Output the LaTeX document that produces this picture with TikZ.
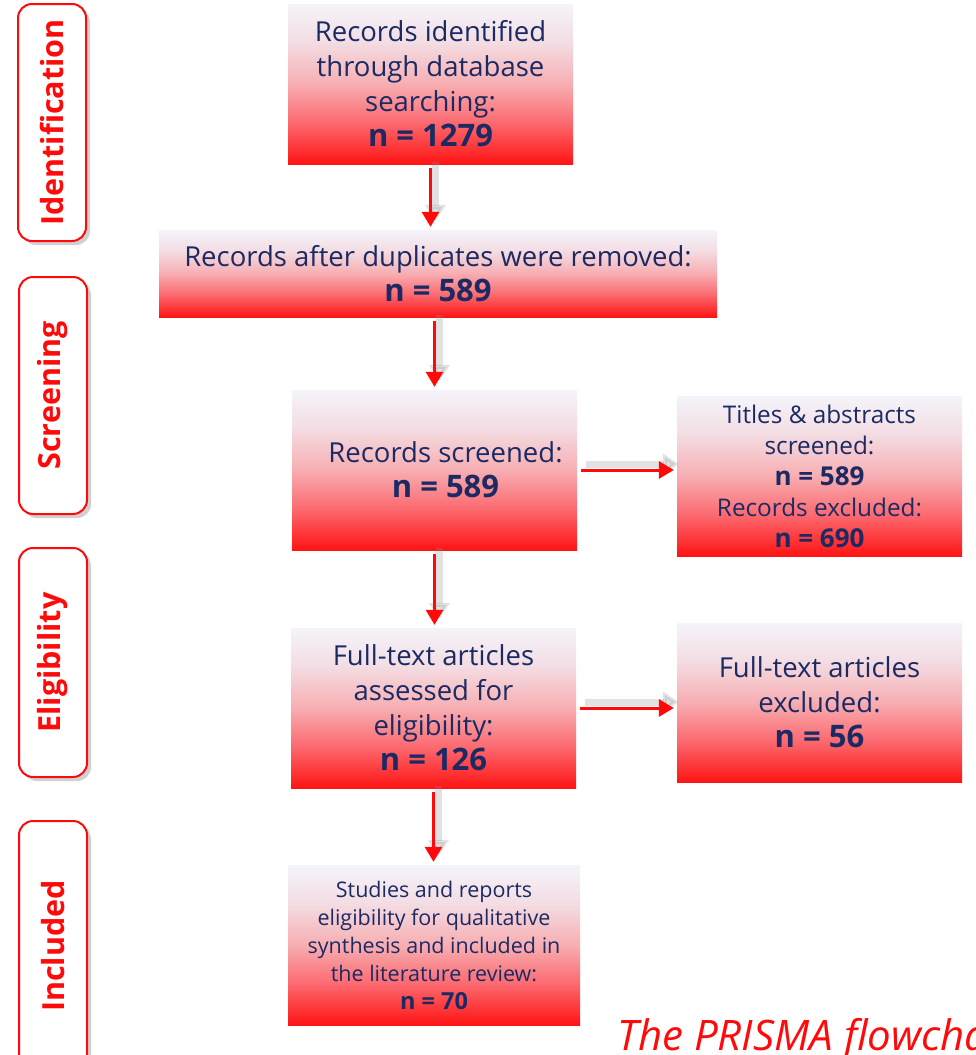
\documentclass[tikz,border=0pt]{standalone}
\usepackage{fontspec}
\setmainfont{Open Sans}
\usetikzlibrary{arrows.meta,shadows}
\definecolor{prred}{HTML}{FF0A0A}
\definecolor{navy}{HTML}{1B2A63}
\definecolor{shredb}{HTML}{FF1414}
\definecolor{shredm}{HTML}{FB6A70}
\definecolor{shpink}{HTML}{F7AEB2}
\definecolor{shlight}{HTML}{F3DDE3}
\definecolor{shtop}{HTML}{F4F4FA}
\pgfdeclareverticalshading{boxshade}{100bp}{color(0bp)=(shredb); color(25bp)=(shredb); color(38bp)=(shredm); color(50bp)=(shpink); color(63bp)=(shlight); color(75bp)=(shtop); color(100bp)=(shtop)}
\newcommand\cnt[3]{{\fontsize{#1}{#2}\selectfont\bfseries #3}}
\tikzset{
  flowbox/.style={rectangle, shading=boxshade, draw=none, text=navy, align=center, inner sep=0pt},
  bigtext/.style={font=\fontsize{27.5}{35}\selectfont},
  midtext/.style={font=\fontsize{24.3}{31}\selectfont},
  smalltext/.style={font=\fontsize{21.5}{28}\selectfont},
  sidelab/.style={rectangle, rounded corners=14pt, draw=prred, line width=2pt, fill=white,
    drop shadow={shadow xshift=4pt, shadow yshift=-4pt, opacity=0.3, fill=black!60},
    rotate=90, text=prred, font=\fontsize{30.5}{30.5}\bfseries\selectfont, inner sep=0pt,
    minimum height=68pt},
  flowarrow/.style={draw=prred, line width=3pt, -{Triangle[width=17pt,length=15pt]}, shorten <=4pt, shorten >=3pt},
  arrowshadow/.style={draw=black!45, opacity=0.25, line width=7pt, -{Triangle[width=20pt,length=16pt]}, shorten <=4pt, shorten >=3pt, transform canvas={shift={(5pt,6pt)}}},
}
\begin{document}
\begin{tikzpicture}[x=1pt,y=-1pt]
\useasboundingbox (0,0) rectangle (975,1055);
\clip (0,0) rectangle (975,1055);
% side labels
\node[sidelab, minimum width=237pt] (sid) at (52,122.5) {Identification};
\node[sidelab, minimum width=237pt] (sscr) at (53,395.5) {Screening};
\node[sidelab, minimum width=229pt] (selig) at (53,662.5) {Eligibility};
\node[sidelab, minimum width=250pt] (sinc) at (53,946) {Included};
% boxes
\node[flowbox, bigtext, minimum width=285pt, minimum height=160pt] (b1) at (430.5,84)
  {Records identified\\through database\\searching:\\\cnt{31}{35}{n = 1279}};
\node[flowbox, bigtext, minimum width=558pt, minimum height=87pt] (b2) at (438,273.5)
  {Records after duplicates were removed:\\\cnt{31}{35}{n = 589}};
\node[flowbox, bigtext, minimum width=285pt, minimum height=160pt] (b3) at (434.5,470)
  {\hspace*{22pt}Records screened:\\\hspace*{22pt}\cnt{31}{35}{n = 589}};
\node[flowbox, midtext, minimum width=285pt, minimum height=160pt] (b4) at (819.5,476)
  {Titles \& abstracts\\screened:\\\cnt{26}{31}{n = 589}\\Records excluded:\\\cnt{26}{31}{n = 690}};
\node[flowbox, bigtext, minimum width=285pt, minimum height=160pt] (b5) at (433.5,708)
  {Full-text articles\\assessed for\\eligibility:\\\cnt{31}{35}{n = 126}};
\node[flowbox, bigtext, minimum width=285pt, minimum height=159pt] (b6) at (819.5,702.5)
  {Full-text articles\\excluded:\\\cnt{31}{35}{n = 56}};
\node[flowbox, smalltext, minimum width=292pt, minimum height=160pt] (b7) at (434,945)
  {Studies and reports\\eligibility for qualitative\\synthesis and included in\\the literature review:\\\cnt{23.5}{28}{n = 70}};
% connectors
\foreach \s/\e in {{b1.south}/{b1.south |- b2.north},
                   {b3.north |- b2.south}/{b3.north},
                   {b3.south}/{b3.south |- b5.north},
                   {b5.south}/{b5.south |- b7.north},
                   {b3.east}/{b3.east -| b4.west},
                   {b5.east}/{b5.east -| b6.west}} {
  \draw[arrowshadow] (\s) -- (\e);
  \draw[flowarrow] (\s) -- (\e);
}
% caption
\node[anchor=base west, inner sep=0pt, text=prred, font=\fontsize{42}{42}\itshape\selectfont] (cap) at (617,1050) {The PRISMA flowchart};
\end{tikzpicture}
\end{document}
